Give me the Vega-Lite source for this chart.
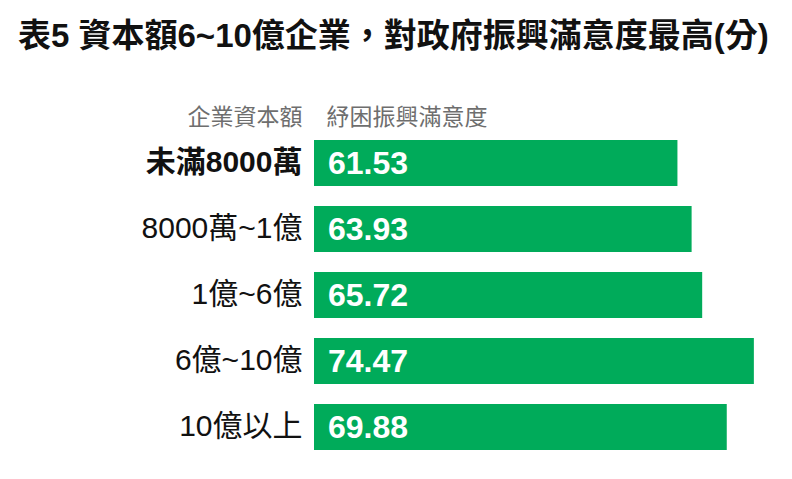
{
  "$schema": "https://vega.github.io/schema/vega-lite/v6.json",
  "autosize": "none",
  "width": 443,
  "height": 330,
  "padding": {"left": 314, "top": 130, "right": 35, "bottom": 19},
  "background": "white",
  "title": {
    "text": "表5 資本額6~10億企業，對政府振興滿意度最高(分)",
    "anchor": "start",
    "frame": "group",
    "dx": -296,
    "fontSize": 33,
    "fontWeight": "bold",
    "font": "Liberation Sans, Noto Sans CJK TC",
    "color": "#111111",
    "offset": 52
  },
  "data": {
    "values": [
      {"group": "未滿8000萬", "score": 61.53},
      {"group": "8000萬~1億", "score": 63.93},
      {"group": "1億~6億", "score": 65.72},
      {"group": "6億~10億", "score": 74.47},
      {"group": "10億以上", "score": 69.88}
    ]
  },
  "encoding": {
    "y": {
      "field": "group",
      "type": "nominal",
      "sort": null,
      "scale": {"paddingInner": 0.3, "paddingOuter": 0.15},
      "axis": {
        "title": "企業資本額",
        "titleAngle": 0,
        "titleAlign": "right",
        "titleBaseline": "bottom",
        "titleX": -12,
        "titleY": -1,
        "titleFontSize": 23,
        "titleFontWeight": "normal",
        "titleColor": "#6e6e6e",
        "titleFont": "Liberation Sans, Noto Sans CJK TC",
        "domain": false,
        "ticks": false,
        "labelPadding": 12,
        "labelFontSize": 30,
        "labelColor": "#111111",
        "labelFont": "Liberation Sans, Noto Sans CJK TC",
        "labelFontWeight": {"condition": {"test": "datum.value === '未滿8000萬'", "value": "bold"}, "value": "normal"},
        "labelLimit": 300
      }
    }
  },
  "layer": [
    {
      "mark": {"type": "bar", "color": "#00ab5a"},
      "encoding": {
        "x": {
          "field": "score",
          "type": "quantitative",
          "scale": {"domain": [0, 75], "nice": false},
          "axis": {
            "orient": "top",
            "title": "紓困振興滿意度",
            "titleAnchor": "start",
            "titleAlign": "left",
            "titleBaseline": "bottom",
            "titleX": 12,
            "titleY": -1,
            "titleFontSize": 23,
            "titleFontWeight": "normal",
            "titleColor": "#6e6e6e",
            "titleFont": "Liberation Sans, Noto Sans CJK TC",
            "domain": false,
            "ticks": false,
            "labels": false,
            "grid": false
          }
        }
      }
    },
    {
      "mark": {
        "type": "text",
        "align": "left",
        "baseline": "middle",
        "dx": 14,
        "dy": 1,
        "fontSize": 32,
        "fontWeight": "bold",
        "font": "Liberation Sans, Noto Sans",
        "color": "white"
      },
      "encoding": {
        "x": {"datum": 0, "type": "quantitative"},
        "text": {"field": "score", "type": "quantitative", "format": ".2f"}
      }
    }
  ],
  "config": {"view": {"stroke": null}}
}
